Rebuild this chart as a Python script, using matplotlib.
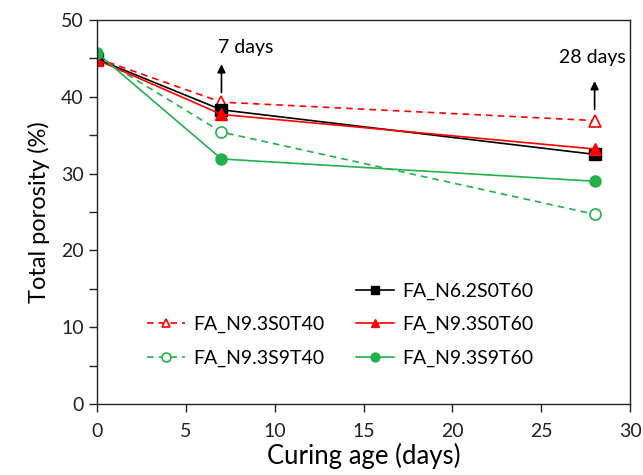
import matplotlib
matplotlib.use("Agg")
import matplotlib.pyplot as plt
from matplotlib.lines import Line2D
from matplotlib.ticker import MultipleLocator

plt.rcParams['font.family'] = ['Lato', 'DejaVu Sans']

days = [0, 7, 28]
fa_n62s0t60 = [44.9, 38.3, 32.5]
fa_n93s0t60 = [44.8, 37.7, 33.2]
fa_n93s0t40 = [45.0, 39.3, 36.9]
fa_n93s9t40 = [45.3, 35.4, 24.7]
fa_n93s9t60 = [45.7, 31.9, 29.0]

red = '#FF0000'
green = '#22B14C'

fig = plt.figure(figsize=(6.43, 4.75), dpi=100)
ax = fig.add_axes([0.151, 0.1495, 0.829, 0.8085])

l_blank = Line2D([], [], linestyle='none', marker=None)
l1, = ax.plot(days, fa_n93s0t40, color=red, ls=(0, (4, 3)), lw=1.2, marker='^', ms=8,
              mfc='white', mec=red, mew=1.2, label='FA_N9.3S0T40')
l2, = ax.plot(days, fa_n93s9t40, color=green, ls=(0, (4, 3)), lw=1.2, marker='o', ms=8,
              mfc='white', mec=green, mew=1.2, label='FA_N9.3S9T40')
l3, = ax.plot(days, fa_n62s0t60, color='black', lw=1.2, marker='s', ms=8,
              label='FA_N6.2S0T60')
l4, = ax.plot(days, fa_n93s0t60, color=red, lw=1.2, marker='^', ms=8,
              label='FA_N9.3S0T60')
l5, = ax.plot(days, fa_n93s9t60, color=green, lw=1.2, marker='o', ms=8,
              label='FA_N9.3S9T60')

ax.set_xlim(0, 30)
ax.set_ylim(0, 50)
ax.set_xticks(range(0, 31, 5))
ax.set_yticks(range(0, 51, 10))
ax.yaxis.set_minor_locator(MultipleLocator(5))
ax.tick_params(axis='both', which='both', direction='out', length=6, width=1,
               labelsize=14, colors='#222222')
ax.tick_params(axis='x', pad=8)
for s in ax.spines.values():
    s.set_linewidth(1.0)
    s.set_color('#222222')

ax.set_xlabel('Curing age (days)', fontsize=18.5, labelpad=2)
ax.set_ylabel('Total porosity (%)', fontsize=17, labelpad=8)

ax.annotate('', xy=(7, 44.6), xytext=(7, 40.2),
            arrowprops=dict(arrowstyle='-|>', color='black', lw=1.2, mutation_scale=12))
ax.text(6.8, 45.3, '7 days', ha='left', va='bottom', fontsize=14)
ax.annotate('', xy=(28, 42.4), xytext=(28, 38.0),
            arrowprops=dict(arrowstyle='-|>', color='black', lw=1.2, mutation_scale=12))
ax.text(27.9, 44.0, '28 days', ha='center', va='bottom', fontsize=14)

leg = ax.legend([l_blank, l1, l2, l3, l4, l5],
                ['', 'FA_N9.3S0T40', 'FA_N9.3S9T40', 'FA_N6.2S0T60', 'FA_N9.3S0T60', 'FA_N9.3S9T60'],
                ncol=2, frameon=False, fontsize=14, loc='lower left',
                bbox_to_anchor=(0.06, 0.05), handlelength=2.0, handletextpad=0.4,
                columnspacing=1.6, labelspacing=0.85, markerscale=0.8)

fig.savefig('out.png', dpi=100)
